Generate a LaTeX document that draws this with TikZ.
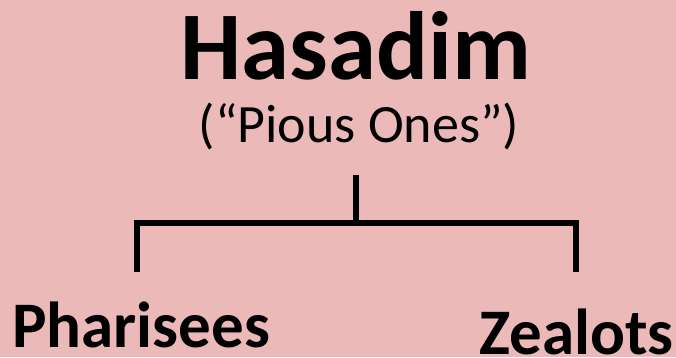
\documentclass[tikz,border=0pt]{standalone}
\usepackage{fontspec}
\setmainfont{Carlito}
\definecolor{bgpink}{RGB}{236,185,185}
\tikzset{
  title/.style={font=\bfseries\fontsize{97}{97}\selectfont, inner sep=0pt, text depth=0pt, anchor=base},
  subtitle/.style={font=\fontsize{54}{54}\selectfont, inner sep=0pt, anchor=base},
  branch/.style={font=\bfseries\fontsize{65}{65}\selectfont, inner sep=0pt, text depth=0pt},
  tree/.style={line width=5.5pt, line join=miter}
}
\begin{document}
\begin{tikzpicture}[x=1pt, y=-1pt]
    \fill[bgpink] (0,0) rectangle (676,357);
    \useasboundingbox (0,0) rectangle (676,357);

    \node[title] (hasadim) at (356,79) {Hasadim};
    \node[subtitle] (pious) at (359,142) {(“Pious Ones”)};

    \node[branch, anchor=base west] (pharisees) at (12,347) {Pharisees};
    \node[branch, anchor=base east] (zealots) at (674,354) {Zealots};

    % stem and bracket
    \coordinate (stem) at (356,175);
    \coordinate (fork) at (356,226);
    \coordinate (leftend) at (137,272);
    \coordinate (rightend) at (576,272);
    \draw[tree] (stem) -- (fork);
    \draw[tree] (leftend) -- (leftend |- 0,223) -- (rightend |- 0,223) -- (rightend);
\end{tikzpicture}
\end{document}
